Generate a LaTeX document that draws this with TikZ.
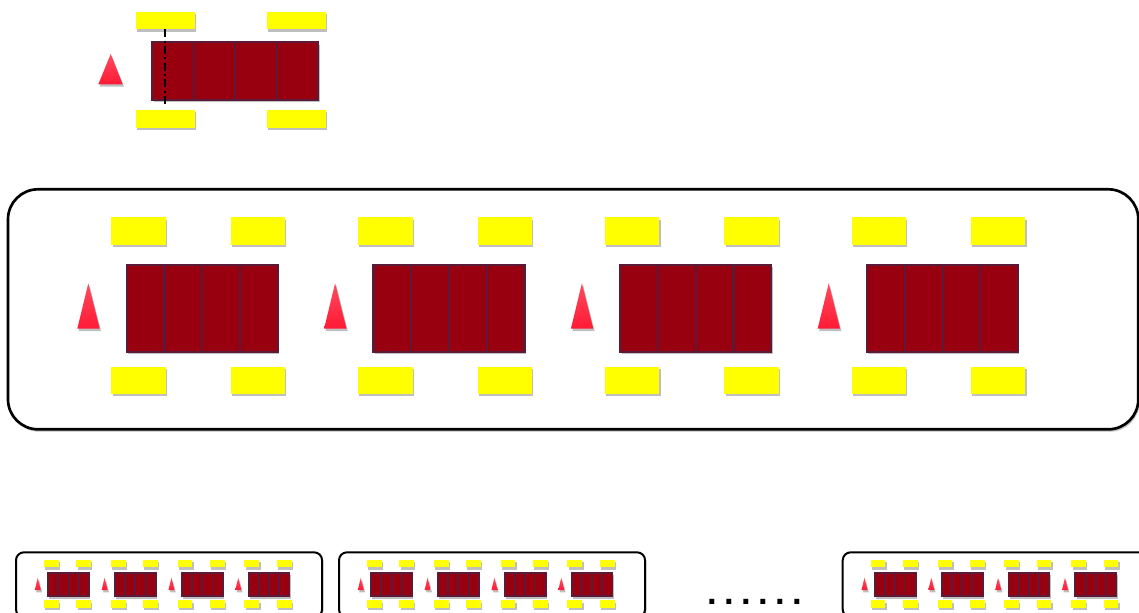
\documentclass[tikz,border=0pt]{standalone}
\usepackage{fontspec}
\setmainfont{Liberation Sans}
\usetikzlibrary{shadows}
\definecolor{carcol}{HTML}{99000F}
\definecolor{caredge}{HTML}{5A1A38}
\definecolor{wheel}{HTML}{FFFF00}
\definecolor{cone}{HTML}{FF1A35}
\definecolor{conelight}{HTML}{FF4A5E}
\tikzset{
  shad/.style={drop shadow={shadow xshift=1pt, shadow yshift=-1.8pt, opacity=0.25, fill=black}},
  wheelbox/.style={fill=wheel, shad},
  cellfill/.style={fill=carcol, shad},
  celledge/.style={draw=caredge, line width=1.6pt},
  conetri/.style={top color=conelight, bottom color=cone, shad},
  fleetbox/.style={draw=black, fill=white, shad},
}
\newcommand\carunit{%
  \fill[wheelbox] (103.3,28) rectangle (157.7,55.4);
  \fill[wheelbox] (222.7,28) rectangle (277,55.4);
  \fill[wheelbox] (103.3,177.4) rectangle (157.7,204.4);
  \fill[wheelbox] (222.7,177.4) rectangle (277,204.4);
  \shade[conetri] (80.3,94) -- (91.7,139.4) -- (69.3,139.4) -- cycle;
  \fill[cellfill] (118.7,75.7) rectangle (269.7,162.4);
  \foreach \i in {1,2,3} \draw[celledge] ({118.7+37.75*\i},75.7) -- ++(0,86.7);
  \draw[celledge] (118.7,75.7) rectangle (269.7,162.4);
}
\newcommand\fleet{%
  \foreach \g in {0,...,3} {
    \begin{scope}[shift={(246.8*\g,0)}]
      \carunit
    \end{scope}
  }
}
\newcommand\dotgap{\hspace{5.52pt}}
\begin{document}
\begin{tikzpicture}[x=0.75pt,y=-0.75pt]
  \useasboundingbox (0,0) rectangle (1139,612);
  % single vehicle at top
  \fill[wheelbox] (135.7,11.7) rectangle (195,29.3);
  \fill[wheelbox] (267,11.7) rectangle (326,29.3);
  \fill[wheelbox] (135.7,110) rectangle (195,127.7);
  \fill[wheelbox] (267,110) rectangle (326,127.7);
  \shade[conetri] (110.7,54) -- (122.7,84.3) -- (98.3,84.3) -- cycle;
  \fill[cellfill] (152.3,42.3) rectangle (318.3,99.7);
  \foreach \i in {1,2,3} \draw[celledge] ({152.3+41.5*\i},42.3) -- ++(0,57.4);
  \draw[celledge] (152.3,42.3) rectangle (318.3,99.7);
  \draw[black, line width=1.7pt, dash pattern=on 6pt off 2.5pt on 1.5pt off 2.5pt] (165.3,29.3) -- (165.3,107);
  % big box
  \begin{scope}[shift={(8,189.3)}]
    \draw[fleetbox, line width=2pt, rounded corners=22.5pt] (0,0) rectangle (1130.3,240);
    \fleet
  \end{scope}
  % small boxes
  \foreach \bx in {16,339,842.7} {
    \begin{scope}[shift={(\bx,552.3)}, scale=0.2708, celledge/.append style={line width=1.4pt}]
      \draw[fleetbox, line width=1.5pt, rounded corners=6pt] (0,0) rectangle (1130.3,240);
      \fleet
    \end{scope}
  }
  \node[anchor=base west, inner sep=0pt, font=\bfseries\fontsize{26}{28}\selectfont] (dots) at (706.9,604.1) {.\dotgap.\dotgap.\dotgap.\dotgap.\dotgap.};
\end{tikzpicture}
\end{document}
